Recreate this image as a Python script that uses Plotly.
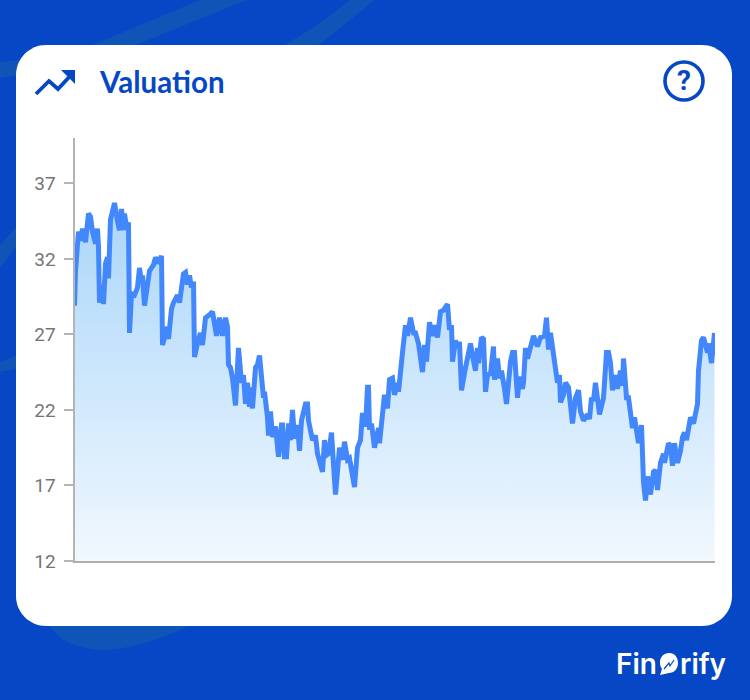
import plotly.graph_objects as go

days = [0,1,4,6,8,11,14,16,18,21,23,24,25,28,29,31,33,34,36,38,40,43,45,47,49,50,52,54,55,57,
 60,63,65,67,68,70,73,75,79,81,84,87,88,90,93,94,97,99,103,105,109,111,113,115,117,119,120,123,126,128,
 131,135,138,142,145,148,151,153,154,156,158,161,164,167,169,171,173,175,176,178,181,183,185,189,190,193,194,196,198,201,
 204,207,208,210,212,214,216,218,220,223,225,227,231,233,234,238,241,243,248,250,252,254,257,259,261,265,268,270,273,275,
 278,280,283,286,288,291,293,294,295,297,300,304,305,308,310,313,315,318,320,323,324,328,331,333,336,339,341,344,346,348,
 350,352,355,358,360,363,366,369,373,375,377,378,381,383,385,387,391,396,398,401,403,404,407,409,411,413,416,419,420,423,
 425,427,430,432,436,438,440,443,445,448,449,451,453,456,459,463,466,470,472,474,476,480,483,485,486,489,491,494,496,498,
 501,504,506,509,513,515,517,519,521,523,525,529,532,534,536,538,541,543,546,548,549,552,554,558,560,564,567,569,571,573,
 576,579,581,583,586,589,590,594,596,598,600,603,606,608,610,612,616,619,623,624,627,629,633,634,637,640]

valuation = [28.9,31.2,33.8,33.2,34.0,33.1,35.0,34.8,33.8,33.0,34.0,32.8,29.1,30.3,29.0,31.7,32.1,30.7,34.6,35.1,35.7,34.5,33.9,35.3,33.9,35.0,34.1,34.4,27.1,29.7,
 29.6,30.1,31.4,30.4,30.9,28.9,30.1,31.2,31.6,32.1,31.7,32.2,26.3,26.8,27.5,26.7,28.7,29.1,29.6,29.1,31.0,31.1,30.3,30.9,30.1,30.5,25.5,26.4,27.1,26.3,
 28.1,28.3,28.5,26.9,28.1,26.9,28.1,27.5,25.0,24.8,24.1,22.3,26.1,23.8,24.3,22.4,23.8,22.2,23.5,22.1,24.8,25.0,25.6,22.8,23.2,21.5,20.3,21.9,20.2,20.9,
 18.9,21.0,21.0,18.9,18.9,21.1,20.0,22.0,20.1,21.0,19.3,21.3,22.4,22.4,21.3,20.0,20.3,19.1,17.9,20.0,19.0,19.1,20.5,18.4,16.4,19.5,18.7,19.9,18.7,18.8,
 17.6,16.9,19.5,20.0,21.8,20.9,23.5,23.5,20.7,21.1,19.5,20.8,19.8,22.2,23.0,22.1,24.0,24.1,23.0,23.8,23.2,25.8,27.6,26.9,28.1,27.1,27.1,26.4,25.2,24.5,
 26.3,25.2,27.8,26.9,27.6,26.8,28.5,28.6,29.0,27.3,27.6,25.2,26.6,26.1,26.5,23.3,24.8,26.4,25.6,24.6,26.1,25.1,26.8,26.7,23.2,24.3,24.4,26.2,24.0,25.4,
 24.1,24.6,23.4,22.4,25.2,25.8,25.8,22.8,24.2,23.4,23.8,26.1,25.4,26.1,26.9,26.2,26.8,26.9,28.1,26.0,27.1,25.2,23.8,24.3,22.5,23.0,23.8,23.5,22.2,21.1,
 22.8,23.3,21.9,21.3,21.7,21.4,22.8,22.6,23.8,22.5,21.7,22.8,25.8,25.8,25.1,23.3,24.3,23.4,24.6,23.6,25.4,22.8,22.8,20.8,21.5,19.8,21.0,17.2,16.0,17.6,
 16.4,17.9,18.0,16.7,18.5,19.1,18.5,19.8,19.6,18.3,19.8,18.5,19.3,20.2,20.5,20.0,21.5,21.1,22.4,24.6,26.6,26.8,25.8,26.4,25.1,27.1]

tick_values = [12, 17, 22, 27, 32, 37]
title_text = "Valuation"

W, H = 750, 700
BLUE = "#0647c6"
SWOOSH = "#0f55b8"


def px(x):
    return x / W


def py(y):
    return 1 - y / H


def path(*cmds):
    out = []
    for c in cmds:
        if isinstance(c, str):
            out.append(c)
        else:
            out.append(f"{px(c[0]):.5f},{py(c[1]):.5f}")
    return " ".join(out)


def shape(d, fill=None, line=None, width=0, layer="below"):
    return dict(type="path", xref="paper", yref="paper", path=d, layer=layer,
                fillcolor=fill or "rgba(0,0,0,0)",
                line=dict(color=line or "rgba(0,0,0,0)", width=width))


def rounded(x0, y0, x1, y1, r):
    k = r * 0.45
    return path("M", (x0 + r, y0), "L", (x1 - r, y0),
                "C", (x1 - k, y0), (x1, y0 + k), (x1, y0 + r),
                "L", (x1, y1 - r),
                "C", (x1, y1 - k), (x1 - k, y1), (x1 - r, y1),
                "L", (x0 + r, y1),
                "C", (x0 + k, y1), (x0, y1 - k), (x0, y1 - r),
                "L", (x0, y0 + r),
                "C", (x0, y0 + k), (x0 + k, y0), (x0 + r, y0), "Z")


shapes = [
    shape(path("M", (90, 46), "L", (200, 0), "L", (247, 0), "L", (133, 46), "Z"), SWOOSH),
    shape(path("M", (283, 46), "Q", (320, 25), (350, 0), "L", (374, 0), "Q", (345, 25), (317, 46), "Z"), SWOOSH),
    shape(path("M", (0, 62), "L", (20, 60), "L", (20, 75), "L", (0, 78), "Z"), SWOOSH),
    shape(path("M", (0, 245), "L", (18, 225), "L", (18, 245), "L", (0, 268), "Z"), SWOOSH),
    shape(path("M", (0, 362), "L", (18, 355), "L", (18, 368), "L", (0, 372), "Z"), SWOOSH),
    shape(path("M", (48, 624), "Q", (65, 650), (105, 650), "Q", (145, 648), (192, 624), "Z"), SWOOSH),
    shape(rounded(16, 45, 732, 626, 30), "#ffffff"),
    shape(path("M", (36, 94), "L", (49, 81), "L", (58, 89), "L", (72, 74)), None, BLUE, 3.8, "above"),
    shape(path("M", (61, 70), "L", (75, 70), "L", (75, 84), "Z"), BLUE, None, 0, "above"),
    shape(path("M", (669, 653), "C", (675, 653), (678, 658), (678, 663),
               "C", (678, 669), (674, 673), (669, 673),
               "L", (660, 675), "L", (662, 669),
               "C", (660, 666), (660, 664), (660, 662),
               "C", (660, 657), (664, 653), (669, 653), "Z"), "#ffffff", None, 0, "above"),
    shape(path("M", (664, 669), "L", (669, 663), "L", (670, 666), "L", (674, 660)), None, BLUE, 1.2, "above"),
    dict(type="circle", xref="paper", yref="paper", layer="above",
         x0=px(665), x1=px(703), y0=py(100), y1=py(62),
         line=dict(color=BLUE, width=3.6), fillcolor="rgba(0,0,0,0)"),
]

fig = go.Figure()
fig.add_trace(go.Scatter(
    x=days, y=valuation, mode="lines",
    line=dict(color="#4287fb", width=5),
    fill="tozeroy",
    fillgradient=dict(type="vertical", start=35.7, stop=12,
                      colorscale=[[0, "#aad6fa"], [1, "#f1f8fe"]]),
    hoverinfo="skip",
))

fig.update_layout(
    width=W, height=H, autosize=False,
    margin=dict(l=0, r=0, t=0, b=0),
    paper_bgcolor=BLUE, plot_bgcolor="rgba(0,0,0,0)",
    showlegend=False, shapes=shapes,
    font=dict(family="Roboto"),
    xaxis=dict(domain=[px(74.5), px(715)], range=[0, 640.5], showgrid=False, zeroline=False,
               automargin=False, showticklabels=False, ticks="", showline=True,
               linecolor="#aeaeae", linewidth=2),
    yaxis=dict(domain=[py(561), py(138)], range=[12, 40], tickvals=tick_values, automargin=False,
               showgrid=False, zeroline=False, showline=True, linecolor="#b4b4b4", linewidth=2,
               ticks="outside", ticklen=9, tickwidth=1.5, tickcolor="#b4b4b4",
               ticklabelstandoff=4,
               tickfont=dict(family="Roboto", size=19, color="#757575")),
    annotations=[
        dict(text=f"<b>{title_text}</b>", x=px(97), y=py(82), xref="paper", yref="paper",
             xanchor="left", yanchor="middle", showarrow=False,
             font=dict(family="Lato", size=29.5, color=BLUE)),
        dict(text="<b>?</b>", x=px(684), y=py(80), xref="paper", yref="paper",
             xanchor="center", yanchor="middle", showarrow=False,
             font=dict(family="Roboto", size=28, color=BLUE)),
        dict(text="Fin", x=px(614), y=py(664), xref="paper", yref="paper",
             xanchor="left", yanchor="middle", showarrow=False,
             font=dict(family="Inter", size=28, weight=600, color="#ffffff")),
        dict(text="rify", x=px(678), y=py(664), xref="paper", yref="paper",
             xanchor="left", yanchor="middle", showarrow=False,
             font=dict(family="Inter", size=28, weight=600, color="#ffffff")),
    ],
)

assert len(days) == len(valuation), (len(days), len(valuation))
fig.write_html("out.html", post_script="document.body.style.margin='0';",
               config=dict(displayModeBar=False))
